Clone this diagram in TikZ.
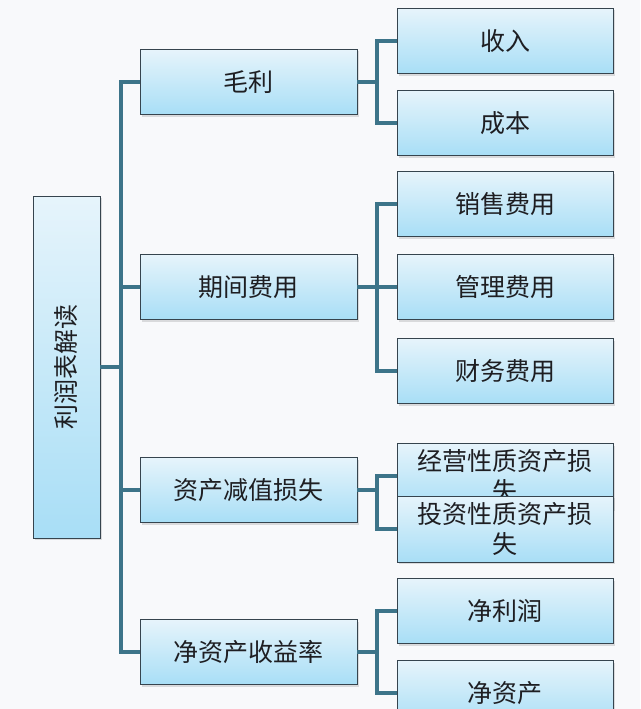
\documentclass[tikz,border=0pt]{standalone}
\usepackage{fontspec}
\setmainfont{Noto Sans CJK SC}
\usetikzlibrary{shadows}
\definecolor{bgc}{HTML}{F8F9FB}
\definecolor{linec}{HTML}{3D7489}
\definecolor{boxtop}{HTML}{E6F4FB}
\definecolor{boxbot}{HTML}{A8DEF6}
\definecolor{boxedge}{HTML}{36444E}
\definecolor{txt}{HTML}{1E1E22}
\begin{document}
\begin{tikzpicture}[x=1pt,y=-1pt,
  box/.style={rectangle, draw=boxedge, line width=0.9pt, top color=boxtop, bottom color=boxbot,
    drop shadow={opacity=0.25, shadow xshift=1.5pt, shadow yshift=-2pt},
    font=\fontsize{25}{30}\selectfont, text=txt, align=center, inner sep=0pt},
  lone/.style={box, minimum width=217pt, minimum height=65pt},
  ltwo/.style={box, minimum width=216pt, minimum height=65pt},
  conn/.style={draw=linec, line width=4pt, line join=miter}]
\useasboundingbox (0,0) rectangle (640,709);
\fill[bgc] (0,0) rectangle (640,709);
\clip (0,0) rectangle (640,709);
% root
\node[box, minimum width=67pt, minimum height=342pt] (root) at (66.5,367) {\rotatebox{90}{利润表解读}};
% level 1
\node[lone] (m1) at (248.5,82) {毛利};
\node[lone] (m2) at (248.5,287) {期间费用};
\node[lone] (m3) at (248.5,490) {资产减值损失};
\node[lone] (m4) at (248.5,652) {净资产收益率};
% level 2
\node[ltwo] (a1) at (505,41) {收入};
\node[ltwo] (a2) at (505,123) {成本};
\node[ltwo] (b1n) at (505,204) {销售费用};
\node[ltwo] (b2n) at (505,287) {管理费用};
\node[ltwo] (b3n) at (505,371) {财务费用};
\node[ltwo] (c1) at (505,476) {经营性质资产损\\失};
\node[ltwo, minimum height=66pt] (c2) at (505,529) {投资性质资产损\\失};
\node[ltwo] (d1) at (505,611) {净利润};
\node[ltwo] (d2) at (505,693) {净资产};
% buses
\coordinate (bus0) at (121,367);
\coordinate (busA) at (377,82);
\coordinate (busB) at (377,287);
\coordinate (busC) at (377,490);
\coordinate (busD) at (377,652);
\path[conn] (root.east) -- (bus0);
\path[conn] (m1.west) -| (bus0) |- (m4.west);
\path[conn] (m2.west) -- (m2.west -| bus0);
\path[conn] (m3.west) -- (m3.west -| bus0);
\path[conn] (m1.east) -- (busA);
\path[conn] (a1.west) -| (busA) |- (a2.west);
\path[conn] (m2.east) -- (b2n.west);
\path[conn] (b1n.west) -| (busB) |- (b3n.west);
\path[conn] (m3.east) -- (busC);
\path[conn] (c1.west) -| (busC) |- (c2.west);
\path[conn] (m4.east) -- (busD);
\path[conn] (d1.west) -| (busD) |- (d2.west);
\end{tikzpicture}
\end{document}
